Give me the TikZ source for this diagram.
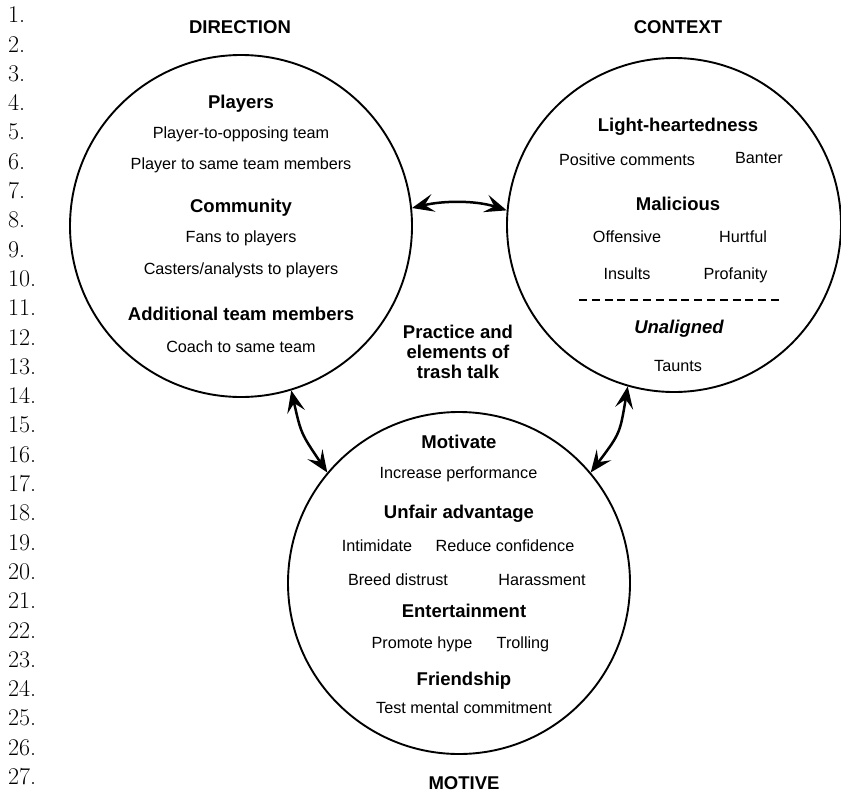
\documentclass[tikz,border=0pt]{standalone}
\usepackage{fontspec}
\newfontfamily\diagsans{Liberation Sans}
\usetikzlibrary{arrows.meta}
\begin{document}
\begin{tikzpicture}[x=1pt,y=-1pt,
  ring/.style={circle, draw, line width=1.9pt, minimum size=#1, inner sep=0pt},
  reg/.style={font=\diagsans\fontsize{16.2}{19}\selectfont, text height=11.6pt, text depth=0pt, inner sep=0pt},
  head/.style={font=\diagsans\bfseries\fontsize{18.5}{20}\selectfont, text height=13.2pt, text depth=0pt, inner sep=0pt},
  headit/.style={font=\diagsans\bfseries\itshape\fontsize{18.5}{20}\selectfont, text height=13.2pt, text depth=0pt, inner sep=0pt},
  linenum/.style={font=\fontsize{24}{26}\selectfont, anchor=west, text height=15.5pt, text depth=0pt, inner sep=0pt},
  link/.style={line width=2.5pt, {Stealth[length=22pt,width=18pt,inset=9pt]}-{Stealth[length=22pt,width=18pt,inset=9pt]}}
]
\useasboundingbox (0,0) rectangle (841,795);

% line numbers
\foreach \k in {1,...,27} {
  \node[linenum] (n\k) at (8,{15+(\k-1)*29.3}) {\k.};
}

% circles
\node[ring=342pt] (L) at (241,226) {};
\node[ring=334pt] (R) at (674,225) {};
\node[ring=342pt] (B) at (459,583) {};

% titles
\node[head] (tdir) at (240,27) {DIRECTION};
\node[head] (tctx) at (678,27) {CONTEXT};
\node[head] (tmot) at (464,783) {MOTIVE};

% left circle
\node[head] (players) at (241,102) {Players};
\node[reg] (p1) at (241,133) {Player-to-opposing team};
\node[reg] (p2) at (241,164) {Player to same team members};
\node[head] (community) at (241,206) {Community};
\node[reg] (c1) at (241,237) {Fans to players};
\node[reg] (c2) at (241,269) {Casters/analysts to players};
\node[head] (addl) at (241,314) {Additional team members};
\node[reg] (a1) at (241,347) {Coach to same team};

% right circle
\node[head] (light) at (678,125) {Light-heartedness};
\node[reg] (pos) at (627,160) {Positive comments};
\node[reg] (banter) at (759,158) {Banter};
\node[head] (malic) at (678,204) {Malicious};
\node[reg] (off) at (627,237) {Offensive};
\node[reg] (hurt) at (743,237) {Hurtful};
\node[reg] (ins) at (627,274) {Insults};
\node[reg] (prof) at (735.5,274) {Profanity};
\coordinate (dashA) at (579,300);
\coordinate (dashB) at (782,300);
\draw[line width=1.3pt, dash pattern=on 8pt off 4.8pt] (dashA) -- (dashB);
\node[headit] (unal) at (679,327) {Unaligned};
\node[reg] (taunts) at (678,366) {Taunts};

% centre label
\node[font=\diagsans\bfseries\fontsize{18.5}{20}\selectfont, align=center, inner sep=0pt] (centre) at (458,352) {Practice and\\elements of\\trash talk};

% bottom circle
\node[head] (motivate) at (459,442) {Motivate};
\node[reg] (incr) at (458.5,473) {Increase performance};
\node[head] (unfair) at (459,512) {Unfair advantage};
\node[reg] (intim) at (377,546) {Intimidate};
\node[reg] (reduce) at (505,546) {Reduce confidence};
\node[reg] (breed) at (398,580) {Breed distrust};
\node[reg] (harass) at (542,580) {Harassment};
\node[head] (entert) at (464,611) {Entertainment};
\node[reg] (hype) at (422,643) {Promote hype};
\node[reg] (troll) at (523,643) {Trolling};
\node[head] (friend) at (464,679) {Friendship};
\node[reg] (test) at (464,708) {Test mental commitment};

% connectors
\draw[link] (L.6) .. controls (444,200.4) and (476,200.4) .. (R.175);
\draw[link] (L.-73) .. controls (301,433.5) .. (B.140);
\draw[link] (R.-106) .. controls (620,433.5) .. (B.40);
\end{tikzpicture}
\end{document}
